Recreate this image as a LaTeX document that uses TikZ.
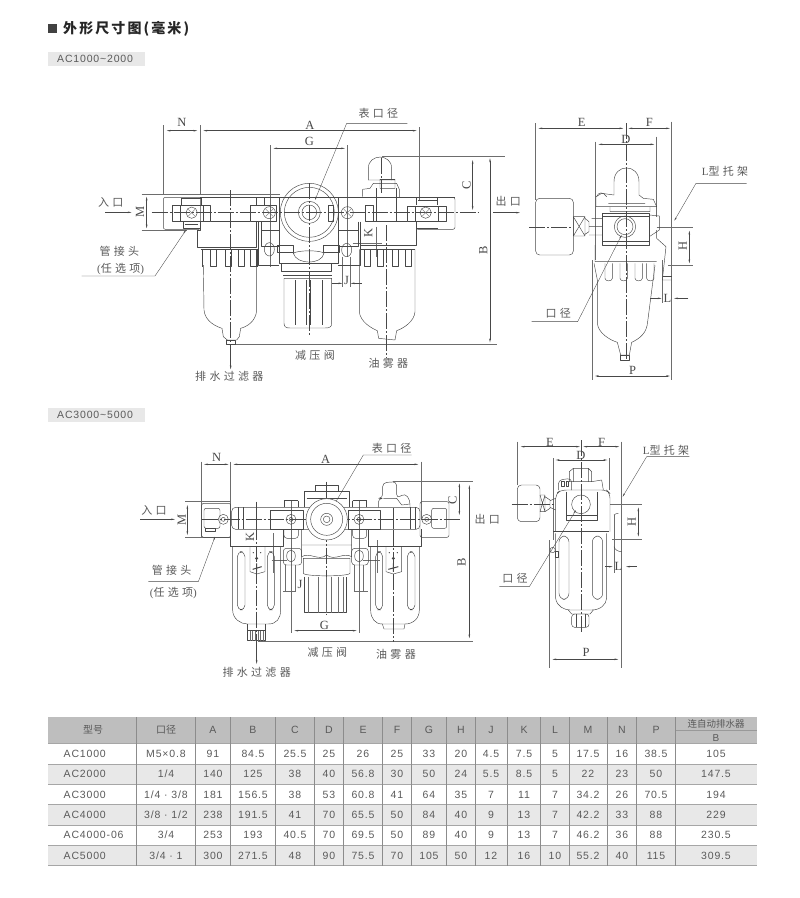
\documentclass[tikz,border=0pt]{standalone}
\usepackage{fontspec}
\setmainfont{Liberation Serif}
\newfontfamily\cjk{Noto Sans CJK SC}
\newfontfamily\cjkw[LetterSpace=30]{Noto Sans CJK SC}
\newfontfamily\cjkh[LetterSpace=15]{Noto Sans CJK SC}
\newfontfamily\tbf[LetterSpace=8]{Liberation Sans}
\usetikzlibrary{arrows.meta}
\definecolor{ink}{HTML}{484848}
\definecolor{txt}{HTML}{5A5A5A}
\definecolor{hdr}{HTML}{BEBEBE}
\definecolor{alt}{HTML}{E8E8E8}
\tikzset{
  obj/.style={draw=ink,line width=.45pt,line join=round},
  fine/.style={draw=ink!80,line width=.35pt},
  ctr/.style={draw=ink,line width=.35pt,dash pattern=on 16pt off 2pt on 2pt off 2pt},
  dimln/.style={draw=ink,line width=.35pt,{Stealth[length=4pt,width=1.6pt]}-{Stealth[length=4pt,width=1.6pt]}},
  arr/.style={draw=ink,line width=.35pt,-{Stealth[length=4pt,width=1.6pt]}},
  lead/.style={draw=ink,line width=.35pt,-{Stealth[length=3.5pt,width=1.4pt]}},
  ltr/.style={inner sep=0pt,text=ink,font=\fontsize{12.5}{13}\selectfont},
  lab/.style={inner sep=0pt,text=ink!90,font=\fontsize{11}{13}\selectfont\cjkw},
  tcell/.style={inner sep=0pt,text=txt,font=\fontsize{10.5}{12}\selectfont\tbf},
  tbase/.style={tcell,anchor=base},
  tagbox/.style={fill=alt,draw=none},
  tagtxt/.style={inner sep=0pt,anchor=west,text=txt,font=\fontsize{10.5}{12}\selectfont\tbf},
}
\newcommand{\screw}[3]{\draw[obj] (#1,#2) circle (#3); \draw[fine] (#1-#3*.6,#2-#3*.6)--(#1+#3*.6,#2+#3*.6) (#1-#3*.6,#2+#3*.6)--(#1+#3*.6,#2-#3*.6);}
\newcommand{\fin}[2]{\draw[obj] (#1,#2) -- (#1,#2+48) -- (#1+18,#2+48) -- (#1+18,#2);}
\begin{document}
\begin{tikzpicture}[x=1pt,y=-1pt]
\useasboundingbox (0,0) rectangle (800,898);
\fill[white] (0,0) rectangle (800,898);
% heading
\fill[ink!90!black] (48,24) rectangle (57,33);
\node[inner sep=0pt,anchor=west,text=black!85] (title) at (63,29) {\fontsize{14}{16}\selectfont\cjkh\bfseries 外形尺寸图(毫米)};
\fill[tagbox] (48,52) rectangle (145,66);
\node[tagtxt] (tag1) at (57,59) {AC1000\textasciitilde2000};
\fill[tagbox] (48,408) rectangle (145,422);
\node[tagtxt] (tag2) at (57,415) {AC3000\textasciitilde5000};

% ---------- drawing 1
\begin{scope}[shift={(80,90)},scale=1/3]
\draw[fine] (250,105)--(250,312) (360,105)--(360,312) (1018,112)--(1018,330) (570,165)--(570,530) (802,165)--(802,500);
\draw[fine] (185,312)--(600,312) (185,422)--(320,422) (905,200)--(1275,200) (465,762)--(1250,762);
\draw[dimln] (260,122)--(352,122);
\draw[dimln] (370,122)--(1010,122);
\draw[dimln] (580,175)--(795,175);
\draw[dimln] (1178,210)--(1178,360);
\draw[dimln] (1230,205)--(1230,757);
\draw[dimln] (200,320)--(200,415);
\draw[arr] (75,367)--(155,367);
\draw[ctr] (215,367)--(1195,367) (452,300)--(452,762) (920,405)--(920,805) (688,280)--(688,735) (905,205)--(905,310);
\draw[arr] (452,762)--(452,838);
\draw[lead] (982,100)--(800,100)--(705,330);
\draw[lead] (5,558)--(225,558)--(318,420);
\draw[fine] (787,500)--(787,592) (812,500)--(812,592) (818,460)--(905,460) (890,410)--(890,500);
\draw[arr] (757,580)--(787,580);
\draw[arr] (845,580)--(812,580);
% main band
\draw[obj] (360,322)--(1125,322) (392,395)--(510,395) (860,395)--(982,395);
\draw[obj,rounded corners=2pt] (250,322) rectangle (362,418);
\draw[obj,rounded corners=2pt] (1012,322) -- (1125,322) -- (1125,418) -- (1012,418);
\draw[obj] (305,325)--(305,345) (305,325)--(365,325) (365,325)--(365,345) (310,395)--(310,415)--(360,415) (315,403)--(355,403);
\draw[obj] (1010,325)--(1010,345) (1072,325)--(1072,345) (1015,332)--(1070,332) (1010,395)--(1010,415)--(1075,415);
\draw[obj] (277,345) rectangle (392,393) (300,345)--(300,393) (370,345)--(370,393);
\screw{335}{368}{17}
\draw[obj] (982,348) rectangle (1098,393) (1005,348)--(1005,393) (1075,348)--(1075,393);
\screw{1037}{368}{17}
% filter body
\draw[obj] (362,393)--(362,420)--(352,420)--(352,472)--(530,472)--(530,393);
\draw[obj] (510,345) rectangle (590,393) (530,325)--(530,345)--(552,345)--(552,325);
\screw{568}{368}{18}
\draw[obj] (362,478)--(535,478);
\foreach \x in {392,435,475,512}{\fin{\x}{480}}
\draw[obj] (368,478)--(368,530) (532,478)--(532,530);
\draw[obj] (370,525) -- (372,660) .. controls (375,695) and (410,710) .. (426,715) -- (430,740) -- (442,750) -- (470,750) -- (478,740) -- (482,715) .. controls (500,710) and (528,695) .. (530,660) -- (530,525);
\draw[obj] (440,750) rectangle (465,764);
% connectors
\draw[obj] (545,395)--(545,470)--(597,470) (545,420)--(597,420) (535,395)--(535,525)--(597,525);
\draw[obj] (568,478) ellipse (15 and 20);
\draw[obj] (835,395)--(835,470)--(775,470) (775,420)--(835,420) (840,395)--(840,525)--(775,525);
\draw[obj] (800,480) ellipse (15 and 20);
% regulator
\draw[obj] (597,322)--(597,520)--(775,520)--(775,322);
\draw[obj] (688,367) circle (87);
\draw[obj] (688,367) circle (75);
\draw[obj] (688,367) circle (33);
\draw[obj] (688,367) circle (22);
\draw[obj] (745,345) rectangle (760,393);
\draw[obj] (592,465) rectangle (640,488) (730,465) rectangle (778,488);
\draw[obj] (640,490) .. controls (650,480) and (725,480) .. (732,490) .. controls (725,525) and (650,525) .. (640,490);
\draw[obj] (605,520)--(605,545)--(755,545)--(755,520);
\draw[obj] (612,565) -- (612,700) .. controls (612,712) and (620,714) .. (630,714) -- (735,714) .. controls (750,714) and (755,710) .. (755,700) -- (755,565) -- cycle;
\draw[obj] (620,545)--(750,545) (610,555)--(755,555);
\draw[obj] (645,570)--(645,705) (680,570)--(680,705) (692,570)--(692,705) (728,570)--(728,705);
\screw{802}{368}{18}
% mist
\draw[obj] (865,270)--(865,235) .. controls (865,190) and (935,190) .. (935,235)--(935,270);
\draw[obj] (900,268) rectangle (945,295) (865,270)--(945,270) (848,320)--(848,298)--(870,295)--(880,280)--(950,280)--(958,298)--(958,322);
\draw[obj] (888,295)--(888,393) (948,295)--(948,393) (855,345) rectangle (880,393);
\draw[obj] (1010,393)--(1010,465)--(840,465);
\draw[obj] (840,478)--(1005,478);
\foreach \x in {852,892,938,975}{\fin{\x}{480}}
\draw[obj] (838,478) -- (838,665) .. controls (840,695) and (875,715) .. (892,722) -- (896,745) -- (945,750) -- (950,722) .. controls (970,715) and (1003,695) .. (1005,665) -- (1005,478);
\end{scope}
\begin{scope}[shift={(80,90)},scale=1/3]
\node[ltr] (n1) at (306,98) {N};
\node[ltr] (a1) at (690,105) {A};
\node[ltr] (g1) at (688,155) {G};
\node[ltr,rotate=90] (c1) at (1160,285) {C};
\node[ltr,rotate=90] (b1) at (1210,482) {B};
\node[ltr,rotate=90] (m1) at (180,367) {M};
\node[ltr,rotate=90] (k1) at (865,430) {K};
\node[ltr] (j1) at (800,572) {J};
\node[lab] (b1a) at (895,70) {表口径};
\node[lab] (in1) at (92,338) {入口};
\node[lab] (gj1) at (118,485) {管接头};
\node[lab] (rx1) at (122,538) {{\rmfamily(}任选项{\rmfamily)}};
\node[lab] (jy1) at (705,795) {减压阀};
\node[lab] (yw1) at (925,820) {油雾器};
\node[lab] (ps1) at (448,858) {排水过滤器};
\end{scope}

% ---------- drawing 2
\begin{scope}[shift={(490,100)},scale=1/3]
\node[lab] (out1) at (55,303) {出口};
\draw[arr] (10,338)--(90,338);
\draw[fine] (137,70)--(137,300) (545,65)--(545,840) (316,125)--(316,480) (499,110)--(499,350) (535,495)--(610,495) (500,381)--(610,381) (517,480)--(517,610) (308,480)--(308,840);
\draw[ctr] (118,381)--(250,381);
\draw[ctr] (408,70)--(408,780);
\draw[dimln] (145,85)--(400,85);
\draw[dimln] (415,85)--(540,85);
\draw[dimln] (325,133)--(493,133);
\draw[dimln] (598,392)--(598,490);
\draw[dimln] (315,828)--(540,828);
\draw[arr] (480,595)--(515,595);
\draw[arr] (595,595)--(552,595);
\draw[lead] (770,250)--(618,250)--(553,362);
\draw[lead] (125,665)--(263,665)--(395,405);
% gauge
\draw[obj,rounded corners=4pt] (137,295) rectangle (250,465);
\draw[obj] (250,350) rectangle (285,408) (250,350)--(285,408) (250,408)--(285,350) (285,355)--(297,365)--(297,395)--(285,403) (297,380)--(338,380) (297,405)--(338,405) (305,355)--(338,355);
% body
\draw[obj] (338,340) rectangle (478,435) (338,350)--(478,350) (338,425)--(478,425);
\draw[obj] (405,380) circle (32);
\draw[obj] (405,380) circle (24);
\draw[obj] (478,345)--(508,348)--(508,390)--(478,410) (500,390)--(500,415);
\draw[obj] (372,285)--(372,245) .. controls (372,190) and (447,190) .. (447,245)--(447,285);
\draw[obj] (318,320)--(318,290)--(335,280)--(372,285) (447,285)--(460,295)--(490,298)--(500,320)--(318,320) (360,320)--(360,335)--(480,335)--(480,320) (355,310)--(465,310);
\draw[obj] (320,290) .. controls (325,275) and (340,275) .. (350,290);
\draw[obj] (315,435)--(315,485)--(500,485) (500,415)--(528,440)--(517,540)--(545,540);
\draw[obj] (520,530)--(545,530);
\foreach \x in {345,390,435,470}{\draw[obj] (\x,490)--(\x,535) .. controls (\x,545) and (\x+22,545) .. (\x+22,535) -- (\x+22,490);}
\draw[obj] (312,490)--(322,540) -- (322,670) .. controls (325,700) and (360,720) .. (382,727) -- (392,765) -- (418,765) -- (425,727) .. controls (450,715) and (470,700) .. (473,665) -- (495,495);
\draw[obj] (392,765) rectangle (418,780);
\end{scope}
\begin{scope}[shift={(490,100)},scale=1/3]
\node[ltr] (e2) at (275,68) {E};
\node[ltr] (f2) at (478,68) {F};
\node[ltr] (d2) at (408,118) {D};
\node[ltr,rotate=90] (h2) at (578,437) {H};
\node[ltr] (l2) at (532,595) {L};
\node[ltr] (p2) at (428,810) {P};
\node[lab] (lt2) at (705,215) {{\rmfamily L}型托架};
\node[lab] (kj2) at (205,640) {口径};
\end{scope}

% ---------- drawing 3
\begin{scope}[shift={(130,430)},scale=1/3]
\draw[fine] (215,95)--(215,325) (302,95)--(302,350) (875,95)--(875,270) (165,215)--(300,215) (165,322)--(300,322) (790,153)--(1030,153) (385,635)--(1030,635) (483,210)--(483,610) (688,210)--(688,610) (430,310)--(430,430) (425,390)--(470,390) (700,390)--(750,390) (742,330)--(742,430) (460,485)--(495,485) (672,485)--(715,485) (465,405)--(465,485) (495,405)--(495,485) (672,405)--(672,485) (700,405)--(700,485);
\draw[dimln] (222,103)--(296,103);
\draw[dimln] (310,103)--(865,103);
\draw[dimln] (988,160)--(988,255);
\draw[dimln] (1018,165)--(1018,625);
\draw[dimln] (172,225)--(172,315);
\draw[dimln] (493,602)--(680,602);
\draw[arr] (30,268)--(135,268);
\draw[ctr] (215,268)--(990,268) (380,215)--(380,635) (790,235)--(790,635) (590,155)--(590,555);
\draw[arr] (380,635)--(380,702);
\draw[lead] (845,75)--(700,75)--(590,262);
\draw[lead] (55,455)--(205,455)--(255,320);
% ports
\draw[obj,rounded corners=2pt] (215,220) rectangle (302,322);
\draw[obj,rounded corners=2pt] (222,235) rectangle (270,295);
\draw[obj] (225,295) rectangle (255,305);
\draw[obj] (280,268) circle (15);
\draw[obj] (280,268) circle (6);
\draw[obj,rounded corners=2pt] (870,215) rectangle (957,322);
\draw[obj,rounded corners=2pt] (905,235) rectangle (950,295);
\draw[obj] (890,268) circle (15);
\draw[obj] (890,268) circle (6);
% band
\draw[obj,rounded corners=4pt] (305,232) rectangle (870,298);
\draw[obj] (340,232)--(340,298) (325,232)--(325,298) (380,240)--(380,298) (420,240) rectangle (520,298) (655,240) rectangle (750,298) (790,240)--(790,298) (840,232)--(840,298) (855,232)--(855,298);
\draw[obj] (462,212)--(462,232) (505,212)--(505,232) (462,212)--(505,212) (668,212)--(668,232) (710,212)--(710,232) (668,212)--(710,212);
\draw[obj] (483,268) circle (15);
\draw[obj] (483,268) circle (6);
\draw[obj] (687,268) circle (15);
\draw[obj] (687,268) circle (6);
% regulator
\draw[obj] (522,232)--(522,185)--(658,185)--(658,232) (557,185)--(557,165)--(625,165)--(625,185) (530,205)--(650,205);
\draw[fill=white,obj] (590,268) circle (62);
\draw[obj] (590,268) circle (48);
\draw[obj] (590,268) circle (18);
\draw[obj] (590,268) circle (10);
\draw[obj] (515,298)--(515,380) (665,298)--(665,380) (515,345)--(665,345) (515,380) .. controls (540,365) and (565,395) .. (590,375) .. controls (615,395) and (640,365) .. (665,380);
\draw[obj] (520,385)--(660,385)--(660,430) .. controls (655,440) and (525,440) .. (520,430) --cycle;
\draw[obj] (522,440)--(522,548)--(650,548)--(650,440);
\foreach \x in {536,565,590,605,625,640}{\draw[fine] (\x,440)--(\x,548);}
\draw[obj,rounded corners=3pt] (462,298)--(462,325)--(505,325)--(505,298);
\draw[obj,rounded corners=3pt] (668,298)--(668,325)--(710,325)--(710,298);
\draw[obj,rounded corners=3pt] (460,355) rectangle (515,405);
\draw[obj,rounded corners=3pt] (665,355) rectangle (715,405);
\draw[obj] (483,378) ellipse (13 and 18);
\draw[obj] (687,378) ellipse (13 and 18);
% filter
\draw[obj] (302,298)--(302,350)--(460,350)--(460,298);
\draw[obj] (308,350)--(308,540) .. controls (308,565) and (330,582) .. (352,582) -- (415,582) .. controls (440,582) and (452,565) .. (452,540) -- (452,350);
\draw[obj,rounded corners=5pt] (322,365) rectangle (345,540);
\draw[obj,rounded corners=5pt] (412,365) rectangle (433,540);
\draw[obj] (360,350)--(360,425)--(380,432)--(405,425)--(405,350);
\fill[ink] (380,385) circle (5);
\draw[ink,line width=1pt] (368,418)--(395,410) (380,400)--(380,425);
\fill[ink] (370,368) circle (2) (392,368) circle (2);
\draw[obj] (352,582)--(352,632)--(405,632)--(405,582);
\foreach \x in {360,368,376,384,392,400}{\draw[fine] (\x,600)--(\x,632);}
\draw[obj] (352,600)--(405,600);
% mist
\draw[obj] (715,298)--(715,350)--(875,350)--(875,298);
\draw[obj] (722,350)--(722,540) .. controls (722,565) and (735,582) .. (757,582) -- (825,582) .. controls (850,582) and (868,565) .. (868,540) -- (868,350);
\draw[obj,rounded corners=5pt] (737,365) rectangle (758,540);
\draw[obj,rounded corners=5pt] (832,365) rectangle (855,540);
\draw[obj] (768,350)--(768,425)--(790,432)--(815,425)--(815,350);
\fill[ink] (790,385) circle (5);
\draw[ink,line width=1pt] (775,418)--(805,410) (790,400)--(790,425);
\fill[ink] (778,368) circle (2) (802,368) circle (2);
\draw[obj] (757,582)--(762,597)--(822,597)--(825,582);
\draw[obj,rounded corners=4pt] (745,232)--(745,205)--(758,205)--(758,158)--(800,155)--(800,205)--(825,190)--(840,210)--(840,232);
\draw[obj] (800,205)--(815,225)--(840,222) (760,205)--(800,205);
\end{scope}
\begin{scope}[shift={(130,430)},scale=1/3]
\node[ltr] (n3) at (260,82) {N};
\node[ltr] (a3) at (587,88) {A};
\node[ltr,rotate=90] (c3) at (968,210) {C};
\node[ltr,rotate=90] (b3) at (995,397) {B};
\node[ltr,rotate=90] (m3) at (155,270) {M};
\node[ltr,rotate=90] (k3) at (360,320) {K};
\node[ltr] (g3) at (583,585) {G};
\node[ltr] (j3) at (510,462) {J};
\node[lab] (bk3) at (785,55) {表口径};
\node[lab] (in3) at (72,242) {入口};
\node[lab] (gj3) at (125,422) {管接头};
\node[lab] (rx3) at (130,488) {{\rmfamily(}任选项{\rmfamily)}};
\node[lab,rotate=0] (out3) at (1072,268) {出口};
\node[lab] (jy3) at (592,668) {减压阀};
\node[lab] (yw3) at (798,672) {油雾器};
\node[lab] (ps3) at (380,728) {排水过滤器};
\end{scope}

% ---------- drawing 4
\begin{scope}[shift={(490,430)},scale=1/3]
\draw[fine] (83,35)--(83,165) (395,35)--(395,715) (190,85)--(190,330) (357,85)--(357,180) (360,223)--(455,223) (367,327)--(455,327) (372,255)--(372,430) (177,330)--(177,715);
\draw[ctr] (65,223)--(197,223) (273,30)--(273,610);
\draw[dimln] (92,50)--(270,50);
\draw[dimln] (280,50)--(388,50);
\draw[dimln] (197,90)--(352,90);
\draw[dimln] (445,232)--(445,320);
\draw[dimln] (187,688)--(385,688);
\draw[arr] (345,410)--(368,410);
\draw[arr] (440,410)--(408,410);
\draw[lead] (598,80)--(470,80)--(398,200);
\draw[lead] (28,470)--(118,470)--(258,240);
% gauge
\draw[obj,rounded corners=4pt] (82,165) rectangle (150,275);
\draw[obj] (150,195)--(165,195)--(165,245)--(150,245) (150,195)--(165,245) (150,245)--(165,195) (165,200)--(180,210)--(180,235)--(165,245) (180,212)--(197,205) (180,232)--(197,240);
% body
\draw[obj,rounded corners=5pt] (197,305)--(197,190)--(215,180)--(350,180)--(360,190)--(360,305);
\draw[obj] (228,185)--(228,270)--(322,270)--(322,185) (228,255)--(322,255);
\draw[obj] (273,223) circle (28);
\draw[obj] (190,305)--(357,305);
\draw[obj] (238,155)--(238,125)--(250,115)--(295,115)--(305,125)--(305,155)--cycle (250,115)--(250,155) (295,115)--(295,155);
\draw[obj,rounded corners=4pt] (205,180)--(205,150)--(245,145)--(245,180);
\draw[obj] (215,155) rectangle (222,170) (228,155) rectangle (235,170);
\draw[obj] (305,155)--(335,150)--(340,180);
% bowl
\draw[obj] (197,310)--(197,505) .. controls (200,530) and (225,540) .. (240,540) -- (305,540) .. controls (330,540) and (348,525) .. (350,505) -- (350,310);
\draw[obj,rounded corners=6pt] (207,318) rectangle (237,508);
\draw[obj,rounded corners=6pt] (307,318) rectangle (338,508);
\draw[obj] (235,540)--(245,552)--(300,552)--(310,540);
\draw[obj,rounded corners=3pt] (245,552) rectangle (297,592);
\draw[obj] (258,552)--(258,592) (285,552)--(285,592);
\draw[obj] (188,360) circle (8);
\draw[obj] (195,365) rectangle (205,382);
\draw[obj] (372,255) .. controls (375,252) and (380,250) .. (385,250) (372,350) .. controls (375,360) and (385,365) .. (395,365);
\end{scope}
\begin{scope}[shift={(490,430)},scale=1/3]
\node[ltr] (e4) at (180,37) {E};
\node[ltr] (f4) at (335,37) {F};
\node[ltr] (d4) at (273,77) {D};
\node[ltr,rotate=90] (h4) at (425,277) {H};
\node[ltr] (l4) at (385,408) {L};
\node[ltr] (p4) at (288,668) {P};
\node[lab] (lt4) at (528,60) {{\rmfamily L}型托架};
\node[lab] (kj4) at (75,445) {口径};
\end{scope}

% ---------- table
\fill[hdr] (48,717) rectangle (757,743.5);
\foreach \a/\b in {764/784,804.5/825,845/865.5}{\fill[alt] (48,\a) rectangle (757,\b);}
\foreach \y in {743.5,764,784,804.5,825,845,865.5}{\draw[draw=gray!70,line width=.7pt] (48,\y)--(757,\y);}
\draw[draw=gray!80,line width=.6pt] (675.3,730.5)--(757,730.5);
\foreach \x in {136.7,195,230.7,275.7,314.7,343.7,382.7,411,446.7,475.3,507.3,540.3,569,607.7,636.7,675.3}{\draw[draw=gray!90,line width=.7pt] (\x,717)--(\x,865.5);}
\def\cols{{0,166,213,253,295,329,363,397,429,461,491,524,555,588,622,656,716}}
\node[tcell,font=\fontsize{10}{12}\selectfont\cjk] (hx) at (93,730) {型号};
\node[tcell,font=\fontsize{10}{12}\selectfont\cjk] (hk) at (166,730) {口径};
\foreach \h [count=\i] in {A,B,C,D,E,F,G,H,J,K,L,M,N,P}{
  \pgfmathsetmacro{\cx}{\cols[\i+1]}
  \node[tbase] (h\h) at (\cx,733.7) {\h};
}
\node[tcell,font=\fontsize{9.5}{12}\selectfont\cjk] (hauto) at (716,723.5) {连自动排水器};
\node[tbase,font=\fontsize{10}{12}\selectfont\tbf] (hb) at (716,741) {B};
\foreach \r/\y/\m/\vals in {
 1/754/AC1000/{M5×0.8,91,84.5,25.5,25,26,25,33,20,4.5,7.5,5,17.5,16,38.5,105},
 2/774/AC2000/{1/4,140,125,38,40,56.8,30,50,24,5.5,8.5,5,22,23,50,147.5},
 3/794.5/AC3000/{1/4 · 3/8,181,156.5,38,53,60.8,41,64,35,7,11,7,34.2,26,70.5,194},
 4/815/AC4000/{3/8 · 1/2,238,191.5,41,70,65.5,50,84,40,9,13,7,42.2,33,88,229},
 5/835/AC4000-06/{3/4,253,193,40.5,70,69.5,50,89,40,9,13,7,46.2,36,88,230.5},
 6/855.5/AC5000/{3/4 · 1,300,271.5,48,90,75.5,70,105,50,12,16,10,55.2,40,115,309.5}}{
  \node[tbase,anchor=base west] (m\r) at (63.5,\y+3.7) {\m};
  \foreach \v [count=\i] in \vals {
    \pgfmathsetmacro{\cx}{\cols[\i]}
    \node[tbase] (c\r-\i) at (\cx,\y+3.7) {\v};
  }
}
\end{tikzpicture}
\end{document}
